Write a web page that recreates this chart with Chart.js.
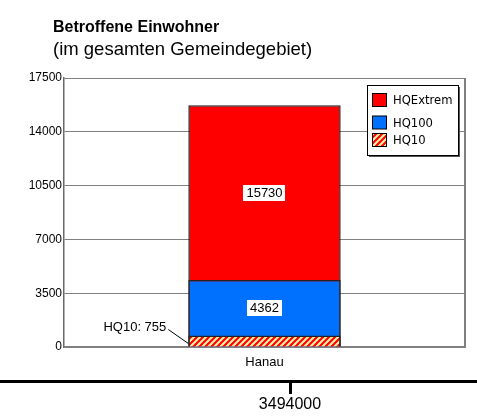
<!DOCTYPE html>
<html>
<head>
<meta charset="utf-8">
<script src="https://cdn.jsdelivr.net/npm/chart.js@4/dist/chart.umd.min.js"></script>
<style>
  html, body { margin: 0; padding: 0; background: #fff; }
  #wrap { width: 477px; height: 416px; position: relative; }
</style>
</head>
<body>
<div id="wrap"><canvas id="c" width="477" height="416"></canvas></div>
<script>
// ---- data ----
const categories = ['Hanau'];
const seriesNames = ['HQ10', 'HQ100', 'HQExtrem'];
const hq10Values = [755];
const hq100Values = [4362];
const hqExtremValues = [15730];
const yTickMin = 0;
const yTickMax = 17500;
const yTickStep = 3500;
const titleText = 'Betroffene Einwohner';
const subtitleText = '(im gesamten Gemeindegebiet)';
const bottomAxisLabels = ['3494000'];

const FONT = '"Liberation Sans", Arial, sans-serif';

function hatchPattern() {
  const s = 6;
  const c = document.createElement('canvas');
  c.width = s; c.height = s;
  const g = c.getContext('2d');
  g.fillStyle = '#FFF2A8';
  g.fillRect(0, 0, s, s);
  g.strokeStyle = '#FF0000';
  g.lineWidth = s / Math.SQRT2 / 2;
  g.beginPath();
  g.moveTo(-2, s + 2); g.lineTo(s + 2, -2);
  g.moveTo(-2, 2); g.lineTo(2, -2);
  g.moveTo(s - 2, s + 2); g.lineTo(s + 2, s - 2);
  g.stroke();
  return g.createPattern(c, 'repeat');
}
const hatch = hatchPattern();

const overlayPlugin = {
  id: 'overlay',
  beforeDatasetsDraw(chart) {
    const { ctx, chartArea: a } = chart;
    ctx.save();
    ctx.strokeStyle = '#808080';
    ctx.lineWidth = 2;
    ctx.beginPath();
    ctx.moveTo(a.right, a.top);
    ctx.lineTo(a.right, a.bottom + 1);
    ctx.moveTo(a.left, a.bottom);
    ctx.lineTo(a.right + 1, a.bottom);
    ctx.stroke();
    ctx.restore();
  },
  afterDatasetsDraw(chart) {
    const { ctx } = chart;
    ctx.save();
    // value labels in white boxes
    const mExt = chart.getDatasetMeta(2).data[0];
    const m100 = chart.getDatasetMeta(1).data[0];
    const m10 = chart.getDatasetMeta(0).data[0];
    const boxes = [
      { text: String(hqExtremValues[0]), cy: (mExt.y + m100.y) / 2 },
      { text: String(hq100Values[0]), cy: (m100.y + m10.y) / 2 }
    ];
    ctx.font = '13px ' + FONT;
    ctx.textAlign = 'center';
    ctx.textBaseline = 'middle';
    boxes.forEach(b => {
      const w = ctx.measureText(b.text).width + 6;
      const h = 16;
      ctx.fillStyle = '#fff';
      ctx.fillRect(Math.round(mExt.x - w / 2), Math.round(b.cy - h / 2), Math.round(w), h);
      ctx.fillStyle = '#000';
      ctx.fillText(b.text, mExt.x, b.cy + 0.5);
    });
    // HQ10 outside label with leader line
    const left = m10.x - m10.width / 2;
    const base = m10.base;
    ctx.textAlign = 'right';
    ctx.textBaseline = 'middle';
    ctx.fillText(seriesNames[0] + ': ' + hq10Values[0], left - 22, base - 19);
    ctx.strokeStyle = '#000';
    ctx.lineWidth = 1;
    ctx.beginPath();
    ctx.moveTo(left - 20, base - 17);
    ctx.lineTo(left, base - 3);
    ctx.stroke();

    // legend (inside the plot, top right)
    const lx = 367.5, ly = 85.5, lw = 91, lh = 70;
    ctx.fillStyle = '#555';
    ctx.fillRect(lx + 1.5, ly + 1.5, lw, lh);
    ctx.fillStyle = '#fff';
    ctx.fillRect(lx, ly, lw, lh);
    ctx.strokeStyle = '#000';
    ctx.lineWidth = 1;
    ctx.strokeRect(lx, ly, lw, lh);
    const items = [2, 1, 0];
    const rowsY = [100, 122.5, 140];
    ctx.font = '11.6px "DejaVu Sans", Verdana, sans-serif';
    ctx.textAlign = 'left';
    items.forEach((di, i) => {
      const ds = chart.data.datasets[di];
      const cy = rowsY[i];
      ctx.fillStyle = ds.backgroundColor;
      ctx.fillRect(372.5, cy - 6.5, 14, 13);
      ctx.strokeStyle = '#000';
      ctx.strokeRect(372.5, cy - 6.5, 14, 13);
      ctx.fillStyle = '#000';
      ctx.fillText(ds.label, 393, cy + 1);
    });

    // titles
    ctx.textAlign = 'left';
    ctx.textBaseline = 'alphabetic';
    ctx.font = 'bold 16px ' + FONT;
    ctx.fillText(titleText, 53, 32);
    ctx.font = '18.5px ' + FONT;
    ctx.fillText(subtitleText, 53, 55);

    // bottom axis line with tick
    ctx.fillStyle = '#000';
    ctx.fillRect(0, 380, 477, 3);
    ctx.fillRect(289, 382, 3, 12);
    ctx.font = '16px ' + FONT;
    ctx.textAlign = 'center';
    ctx.fillText(bottomAxisLabels[0], 290, 409);
    ctx.restore();
  }
};

Chart.defaults.color = '#000';
Chart.defaults.font.family = FONT;

new Chart(document.getElementById('c'), {
  type: 'bar',
  data: {
    labels: categories,
    datasets: [
      { label: seriesNames[0], data: hq10Values, backgroundColor: hatch, borderColor: '#222', borderWidth: 1.5 },
      { label: seriesNames[1], data: hq100Values, backgroundColor: '#0070FF', borderColor: '#222', borderWidth: 1.5 },
      { label: seriesNames[2], data: hqExtremValues, backgroundColor: '#FF0000', borderColor: '#222', borderWidth: 1.5 }
    ]
  },
  options: {
    responsive: false,
    animation: false,
    devicePixelRatio: 1,
    layout: { padding: { left: 0, top: 78, right: 12, bottom: 0 } },
    datasets: { bar: { grouped: false, categoryPercentage: 1, barPercentage: 0.38 } },
    plugins: { legend: { display: false }, tooltip: { enabled: false } },
    scales: {
      x: {
        grid: { display: false, drawTicks: false },
        border: { display: false },
        ticks: { font: { size: 13 }, padding: 8, color: '#000' },
        afterFit(s) { s.height = 69; }
      },
      y: {
        min: yTickMin,
        max: yTickMax,
        ticks: { stepSize: yTickStep, font: { size: 12 }, padding: 2, color: '#000', callback: v => String(v) },
        grid: { color: '#808080', lineWidth: 1, drawTicks: false },
        border: { color: '#6a6a6a', width: 1.5 },
        afterFit(s) { s.width = 64; }
      }
    }
  },
  plugins: [overlayPlugin]
});
</script>
</body>
</html>
